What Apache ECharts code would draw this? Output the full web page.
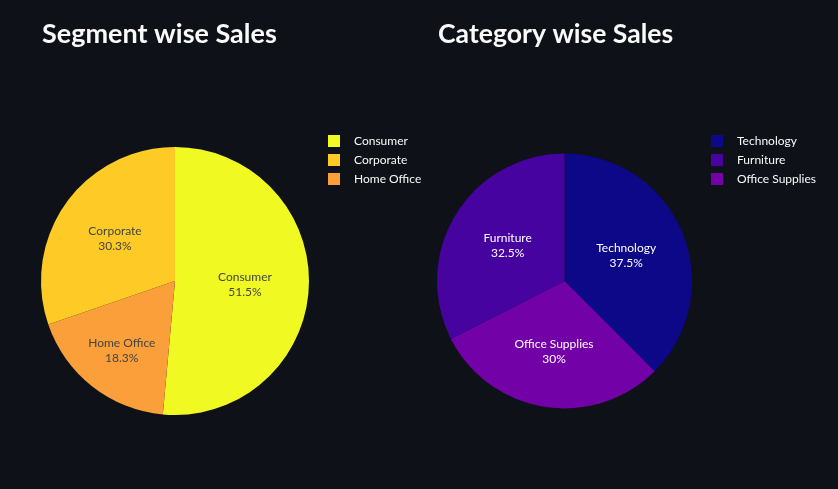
<!DOCTYPE html>
<html>
<head>
<meta charset="utf-8">
<script src="https://cdn.jsdelivr.net/npm/echarts@6/dist/echarts.min.js"></script>
<style>
html,body{margin:0;padding:0;background:#0e1117;}
#c{width:838px;height:489px;}
</style>
</head>
<body>
<div id="c"></div>
<script>
// legend order
const segmentNames = ['Consumer', 'Corporate', 'Home Office'];
const segmentPercents = [51.5, 30.3, 18.3];
const categoryNames = ['Technology', 'Furniture', 'Office Supplies'];
const categoryPercents = [37.5, 32.5, 30];
// clockwise slice order from 12 o'clock (as drawn)
const segmentSliceOrder = ['Consumer', 'Home Office', 'Corporate'];
const categorySliceOrder = ['Technology', 'Office Supplies', 'Furniture'];

const segmentColors = ['#f0f921', '#fdca26', '#fb9f3a'];
const categoryColors = ['#0d0887', '#46039f', '#7201a8'];

// small label nudges (style only) to mimic plotly's inside-text placement
const labelNudge = { 'Home Office': [-10, 15], 'Corporate': [-3, -2], 'Office Supplies': [0, 5] };

const FONT = 'Lato, "Noto Sans", sans-serif';

function mk(names, vals, colors, order) {
  return order.map(n => {
    const i = names.indexOf(n);
    const item = { name: n, value: vals[i], itemStyle: { color: colors[i] } };
    if (labelNudge[n]) item.label = { offset: labelNudge[n] };
    return item;
  });
}

const chart = echarts.init(document.getElementById('c'));
chart.setOption({
  backgroundColor: '#0e1117',
  animation: false,
  title: [
    { text: 'Segment wise Sales', left: 37, top: 16,
      textStyle: { color: '#fafafa', fontSize: 27, fontWeight: 'bold', fontFamily: FONT } },
    { text: 'Category wise Sales', left: 433, top: 16,
      textStyle: { color: '#fafafa', fontSize: 26.6, fontWeight: 'bold', fontFamily: FONT } }
  ],
  legend: [
    { data: segmentNames, orient: 'vertical', left: 323, top: 130, icon: 'rect',
      itemWidth: 12, itemHeight: 12, itemGap: 7,
      textStyle: { color: '#fafafa', fontSize: 12, fontFamily: FONT, padding: [0, 0, 0, 9] } },
    { data: categoryNames, orient: 'vertical', left: 706, top: 130, icon: 'rect',
      itemWidth: 12, itemHeight: 12, itemGap: 7,
      textStyle: { color: '#fafafa', fontSize: 12, fontFamily: FONT, padding: [0, 0, 0, 9] } }
  ],
  series: [
    { type: 'pie', center: [175, 281], radius: 134, startAngle: 90, clockwise: true,
      data: mk(segmentNames, segmentPercents, segmentColors, segmentSliceOrder),
      label: { position: 'inside', color: '#444', fontSize: 12, fontFamily: FONT, lineHeight: 15,
        formatter: p => p.name + '\n' + p.value + '%' },
      labelLine: { show: false }, emphasis: { disabled: true } },
    { type: 'pie', center: [564.5, 281], radius: 127.5, startAngle: 90, clockwise: true,
      data: mk(categoryNames, categoryPercents, categoryColors, categorySliceOrder),
      label: { position: 'inside', color: '#ffffff', fontSize: 12, fontFamily: FONT, lineHeight: 15,
        formatter: p => p.name + '\n' + p.value + '%' },
      labelLine: { show: false }, emphasis: { disabled: true } }
  ]
});
</script>
</body>
</html>
